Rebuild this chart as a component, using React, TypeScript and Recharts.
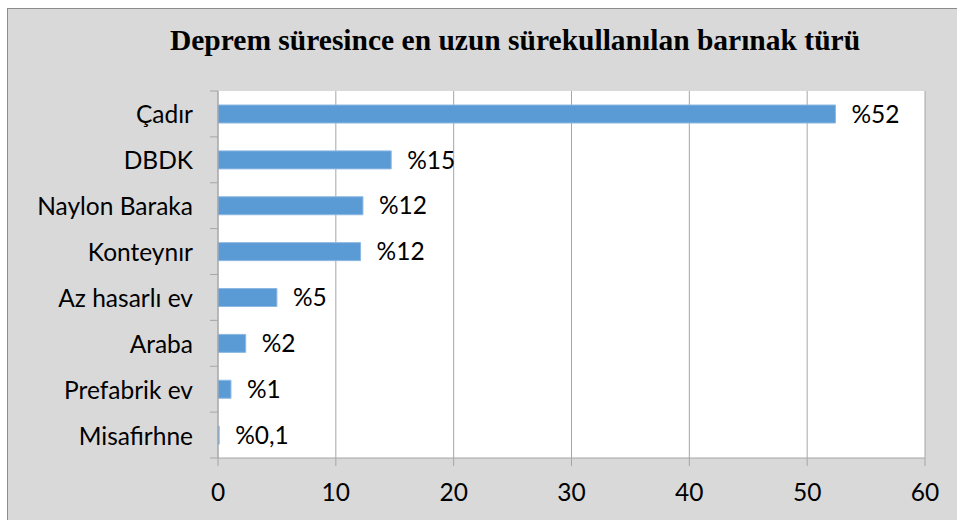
import { BarChart, Bar, XAxis, YAxis, CartesianGrid, LabelList } from "recharts";

const categories = [
  "Çadır",
  "DBDK",
  "Naylon Baraka",
  "Konteynır",
  "Az hasarlı ev",
  "Araba",
  "Prefabrik ev",
  "Misafirhne",
];
const shares = [52.4, 14.7, 12.3, 12.1, 5.0, 2.35, 1.1, 0.1];
const shareLabels = ["%52", "%15", "%12", "%12", "%5", "%2", "%1", "%0,1"];
const xTicks = [0, 10, 20, 30, 40, 50, 60];

const chartData = categories.map((name, i) => ({
  name,
  value: shares[i],
  label: shareLabels[i],
}));

const FONT = "Lato, 'Open Sans', sans-serif";
const FS = 24.5;
const GRID = "#a6a6a6";

// category label plus tick marks on the band edges (Excel style)
function CategoryTick(props: any) {
  const { x, y, payload, index } = props;
  const half = payload?.offset ?? 23;
  const ax = x + 25;
  return (
    <g>
      <text
        x={x}
        y={y}
        textAnchor="end"
        dominantBaseline="central"
        fontFamily={FONT}
        fontSize={FS}
        fill="#000"
      >
        {payload.value}
      </text>
      <line x1={ax - 8} x2={ax} y1={y - half} y2={y - half} stroke={GRID} />
      {index === categories.length - 1 && (
        <line x1={ax - 8} x2={ax} y1={y + half} y2={y + half} stroke={GRID} />
      )}
    </g>
  );
}

export default function App() {
  return (
    <div style={{ position: "absolute", left: 0, top: 0, width: 957, height: 520, background: "#fff" }}>
      <style>{`body{margin:0}`}</style>
      <div
        style={{
          position: "absolute",
          left: 7,
          top: 8,
          width: 960,
          height: 520,
          background: "#d9d9d9",
          border: "1px solid #8c8c8c",
          boxSizing: "border-box",
        }}
      />
      <div
        style={{
          position: "absolute",
          left: 515,
          top: 26,
          transform: "translateX(-50%)",
          whiteSpace: "nowrap",
          fontFamily: "'Liberation Serif', 'Times New Roman', serif",
          fontWeight: "bold",
          fontSize: 29.5,
          lineHeight: 1,
          color: "#000",
        }}
      >
        Deprem süresince en uzun sürekullanılan barınak türü
      </div>
      <div style={{ position: "absolute", left: 0, top: 0 }}>
        <BarChart
          width={957}
          height={520}
          data={chartData}
          layout="vertical"
          margin={{ top: 91, right: 32, bottom: 0, left: 0 }}
        >
          <CartesianGrid horizontal={false} stroke={GRID} fill="#fff" />
          <XAxis
            type="number"
            domain={[0, 60]}
            ticks={xTicks}
            height={62}
            tickSize={8}
            tickMargin={18}
            axisLine={{ stroke: GRID }}
            tickLine={{ stroke: GRID }}
            tick={{ fill: "#000", fontSize: FS, fontFamily: FONT }}
          />
          <YAxis
            type="category"
            dataKey="name"
            width={218}
            tickSize={8}
            tickMargin={17}
            axisLine={{ stroke: GRID }}
            tickLine={false}
            tick={<CategoryTick />}
            interval={0}
          />
          <Bar
            dataKey="value"
            fill="#5b9bd5"
            stroke="#8db8e2"
            strokeWidth={1}
            barSize={18}
            isAnimationActive={false}
          >
            <LabelList
              dataKey="label"
              position="right"
              offset={16}
              fill="#000"
              fontSize={FS}
              fontFamily={FONT}
            />
          </Bar>
        </BarChart>
      </div>
    </div>
  );
}
